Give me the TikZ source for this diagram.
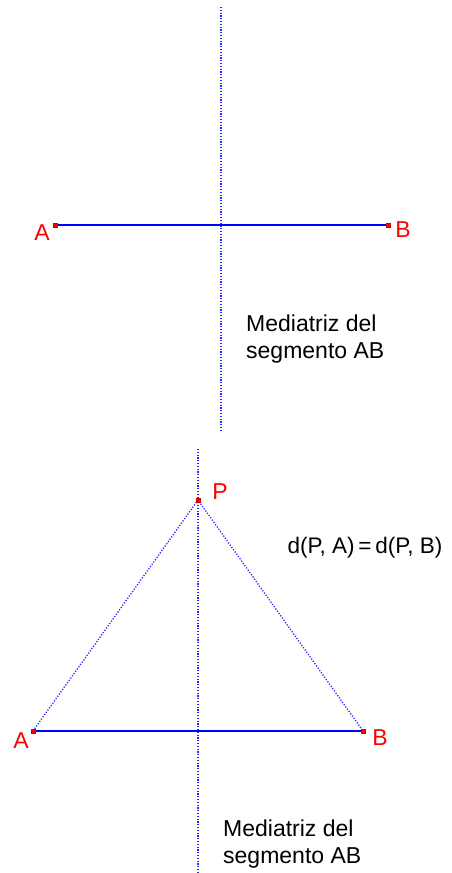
\documentclass[tikz,border=0pt]{standalone}
\usepackage{fontspec}
\setmainfont{Liberation Sans}
\usetikzlibrary{positioning}

\begin{document}
\begin{tikzpicture}[x=1pt, y=-1pt,
    pt/.style={rectangle, fill=red, draw=red!80!black, minimum size=3.5pt, inner sep=0pt},
    lbl/.style={text=red, font=\fontsize{23}{23}\selectfont, inner sep=0pt},
    seg/.style={blue, line width=1.6pt},
    mediatriz/.style={blue!85!white, line width=1.3pt, dash pattern=on 1.2pt off 1.6pt},
    note/.style={align=left, font=\fontsize{23}{27}\selectfont, inner sep=0pt, anchor=north west}]
  \useasboundingbox (0,0) rectangle (451,873);
  % top figure
  \coordinate (t1) at (221,7);
  \coordinate (t2) at (221,430);
  \node[pt] (A1) at (55,225) {};
  \node[pt] (B1) at (388,225) {};
  \draw[mediatriz] (t1) -- (t2);
  \draw[seg] (A1.center) -- (B1.center);
  \node[pt] at (A1.center) {};
  \node[pt] at (B1.center) {};
  \node[lbl] (la1) at (42,233) {A};
  \node[lbl] (lb1) at (403,230) {B};
  \node[note] (n1) at (246,315) {Mediatriz del\\segmento AB};
  % bottom figure
  \coordinate (m1) at (198,449);
  \coordinate (m2) at (198,873);
  \node[pt] (P) at (198,500) {};
  \node[pt] (A2) at (33,731) {};
  \node[pt] (B2) at (363,731) {};
  \draw[mediatriz] (m1) -- (m2);
  \draw[mediatriz] (A2.center) -- (P.center) -- (B2.center);
  \draw[seg] (A2.center) -- (B2.center);
  \node[pt] at (P.center) {};
  \node[pt] at (A2.center) {};
  \node[pt] at (B2.center) {};
  \node[lbl] (lp) at (220,492) {P};
  \node[lbl] (la2) at (21,741) {A};
  \node[lbl] (lb2) at (380,738) {B};
  \node[inner sep=0pt, font=\fontsize{22.5}{22.5}\selectfont] (dist) at (365,548) {d(P, A)\,=\,d(P, B)};
  \node[note] (n2) at (223,820) {Mediatriz del\\segmento AB};
\end{tikzpicture}
\end{document}
